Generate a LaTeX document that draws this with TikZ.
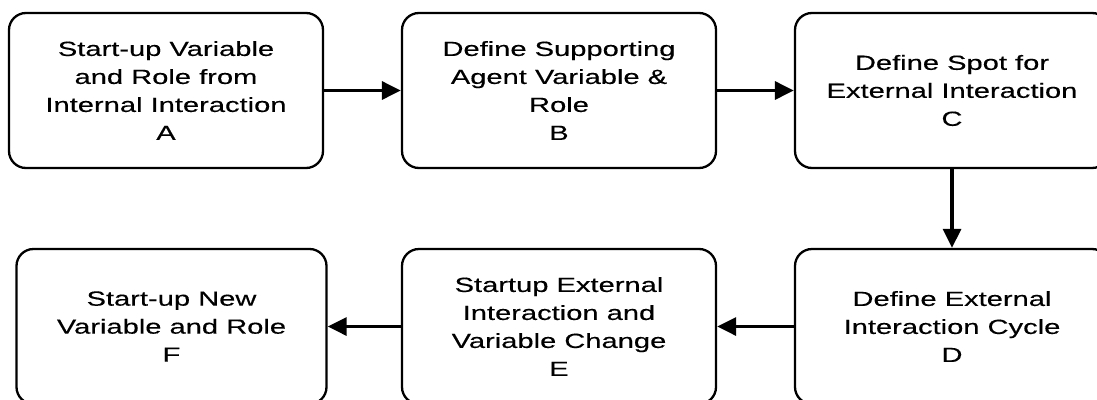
\documentclass[tikz,border=0pt]{standalone}
\usepackage{fontspec}
\setmainfont{Liberation Sans}[FakeStretch=1.42, FakeBold=0.3]
\usetikzlibrary{arrows.meta}
\tikzset{
  stagebox/.style={draw=black, line width=2.3pt, rounded corners=17pt,
    minimum width=314pt, minimum height=155pt, align=center,
    font=\fontsize{20.5pt}{28pt}\selectfont, inner sep=0pt},
  flow/.style={line width=3.2pt, -{Triangle[length=19pt,width=18pt]}}
}
\begin{document}
\begin{tikzpicture}[x=1pt, y=-1pt]
  \useasboundingbox (0,0) rectangle (1097,399);
  \clip (0,0) rectangle (1097,399);
  % top row
  \node[stagebox] (A) at (166,90.5) {Start-up Variable\\and Role from\\Internal Interaction\\A};
  \node[stagebox] (B) at (559,90.5) {Define Supporting\\Agent Variable \&\\Role\\B};
  \node[stagebox] (C) at (952,90.5) {Define Spot for\\External Interaction\\C};
  % bottom row
  \node[stagebox, minimum width=310pt] (F) at (171.5,326.5) {Start-up New\\Variable and Role\\F};
  \node[stagebox] (E) at (559,326.5) {Startup External\\Interaction and\\Variable Change\\E};
  \node[stagebox] (D) at (952,326.5) {Define External\\Interaction Cycle\\D};
  % connectors
  \draw[flow] (A.east) -- (B.west);
  \draw[flow] (B.east) -- (C.west);
  \draw[flow] (C.south) -- (D.north);
  \draw[flow] (D.west) -- (E.east);
  \draw[flow] (E.west) -- (F.east);
\end{tikzpicture}
\end{document}
